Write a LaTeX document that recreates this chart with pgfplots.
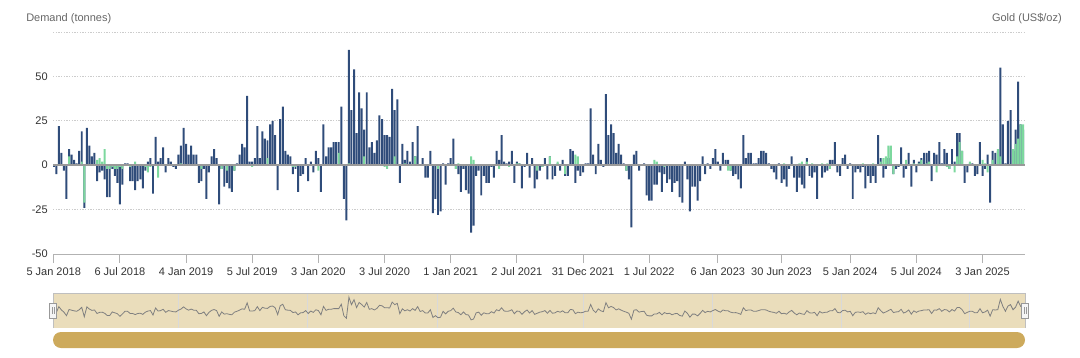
\documentclass[border=0pt]{standalone}
\usepackage{fontspec}
\setmainfont{Liberation Sans}
\usepackage{pgfplots}
\usepackage{pgfplotstable}
\pgfplotsset{compat=1.18}
\definecolor{navy}{HTML}{2F4C7A}
\definecolor{mint}{HTML}{7DD89E}
\definecolor{tanc}{HTML}{EADDBB}
\definecolor{scroll}{HTML}{CDAA5C}
\definecolor{lbl}{HTML}{333333}
\definecolor{ttl}{HTML}{666666}
\newcommand{\lblfont}{\fontsize{8.25}{9.9}\selectfont}
\pgfplotstableread{
w b g
0 -1 0
1 -5 0
2 22 0
3 7 0
4 -3 0
5 -19 0
6 9 5
7 6 0
8 3 0
9 1 0
10 8 0
11 19 2
12 -24 -21
13 21 0
14 11 0
15 5 0
16 7 0
17 -9 3
18 -4 4
19 -3 2
20 -8 9
21 -18 -2
22 -18 -2
23 -2 -1
24 -6 -2
25 -10 -2
26 -22 -1
27 -11 -2
28 1 0
29 1 0
30 -9 -1
31 -9 0
32 -14 2
33 -9 0
34 -8 0
35 -13 0
36 -3 -1
37 2 -4
38 4 -1
39 -16 0
40 16 0
41 2 -7
42 4 0
43 10 0
44 -4 0
45 4 0
46 2 0
47 -1 0
48 -2 0
49 6 0
50 11 1
51 21 0
52 12 0
53 6 0
54 11 0
55 6 0
56 6 0
57 -10 0
58 -9 -2
59 -2 0
60 -19 0
61 -4 0
62 5 0
63 9 0
64 4 0
65 -22 0
66 -2 -2
67 -12 0
68 -10 -3
69 -13 0
70 -15 0
71 -3 -3
72 1 0
73 6 0
74 12 0
75 10 0
76 39 0
77 2 0
78 2 -1
79 4 0
80 22 0
81 4 0
82 19 0
83 15 0
84 14 4
85 23 0
86 25 0
87 17 0
88 -14 0
89 26 0
90 33 0
91 8 0
92 6 0
93 5 0
94 -5 -1
95 -2 -1
96 -15 0
97 -6 0
98 -5 0
99 4 0
100 -9 0
101 2 0
102 -4 0
103 8 0
104 4 -3
105 -15 0
106 23 0
107 5 0
108 10 0
109 10 0
110 13 0
111 13 0
112 13 7
113 33 0
114 -19 0
115 -31 0
116 65 1
117 31 0
118 54 0
119 18 0
120 41 0
121 32 0
122 20 5
123 41 0
124 10 0
125 13 0
126 7 0
127 14 0
128 28 0
129 26 0
130 17 -1
131 17 -2
132 16 0
133 43 0
134 31 5
135 37 0
136 -10 0
137 12 0
138 3 1
139 8 0
140 2 0
141 13 0
142 5 5
143 22 0
144 0 0
145 4 0
146 -7 0
147 -7 0
148 8 0
149 -27 0
150 -19 0
151 -28 -2
152 -26 0
153 1 0
154 -11 0
155 1 0
156 4 0
157 15 0
158 -2 -2
159 -5 1
160 -15 0
161 -2 0
162 -14 0
163 -16 0
164 -38 5
165 -34 3
166 -6 0
167 -3 0
168 -17 0
169 -6 0
170 -10 0
171 -10 0
172 -1 0
173 -7 0
174 8 0
175 3 -2
176 17 0
177 2 0
178 1 0
179 2 -1
180 8 0
181 -10 0
182 2 1
183 1 1
184 -13 0
185 -1 0
186 7 0
187 -7 0
188 4 0
189 -13 0
190 -8 -3
191 -3 0
192 -1 -1
193 4 0
194 -8 0
195 5 5
196 -8 0
197 -6 0
198 1 2
199 -3 0
200 3 0
201 -6 -5
202 -6 0
203 9 0
204 8 0
205 -10 6
206 -3 5
207 -6 0
208 -4 0
209 1 0
210 1 0
211 32 0
212 6 0
213 -5 0
214 12 0
215 3 0
216 -1 0
217 40 0
218 17 0
219 23 0
220 18 0
221 7 0
222 12 0
223 6 0
224 1 0
225 -3 -3
226 -8 0
227 -35 0
228 6 0
229 8 0
230 -3 0
231 0 0
232 1 0
233 -17 0
234 -20 0
235 -20 0
236 -11 3
237 -11 2
238 -4 0
239 -15 0
240 -5 -1
241 -10 0
242 -8 0
243 -15 0
244 -10 0
245 -9 0
246 -18 0
247 -21 0
248 2 0
249 -8 0
250 -26 0
251 -12 0
252 -12 0
253 -20 0
254 -9 0
255 5 0
256 -5 0
257 1 0
258 -2 0
259 4 0
260 9 0
261 2 0
262 -3 0
263 7 0
264 3 0
265 3 -3
266 -3 -3
267 -6 0
268 -5 0
269 -8 0
270 -13 0
271 17 0
272 4 0
273 7 0
274 7 0
275 1 0
276 1 0
277 4 0
278 8 0
279 8 0
280 7 0
281 1 0
282 -2 0
283 -4 0
284 -8 0
285 1 0
286 -10 0
287 -8 1
288 -12 0
289 -2 0
290 5 0
291 -7 0
292 -15 0
293 -7 1
294 -11 2
295 -13 0
296 4 2
297 -6 0
298 -7 1
299 -4 0
300 -19 0
301 0 0
302 -7 1
303 -4 0
304 -3 1
305 3 -2
306 3 0
307 13 0
308 -4 0
309 -6 0
310 4 0
311 6 0
312 -2 0
313 1 0
314 -19 0
315 -4 0
316 -2 0
317 -4 0
318 -1 1
319 -13 0
320 -6 0
321 -10 0
322 -6 1
323 -10 0
324 17 0
325 4 2
326 -7 4
327 -2 5
328 4 11
329 10 11
330 -5 -5
331 -2 0
332 -1 0
333 10 0
334 -7 0
335 -2 3
336 7 0
337 -12 0
338 3 1
339 -4 0
340 2 1
341 4 3
342 7 0
343 7 1
344 8 2
345 -9 0
346 7 0
347 6 -4
348 13 0
349 1 0
350 9 0
351 7 -1
352 -2 -2
353 9 0
354 2 -4
355 18 5
356 18 13
357 8 8
358 -10 0
359 -4 0
360 1 2
361 1 0
362 -6 0
363 -5 0
364 13 0
365 -6 3
366 -2 1
367 6 -4
368 -21 0
369 8 3
370 7 0
371 8 9
372 55 5
373 23 0
374 1 0
375 25 0
376 31 0
377 8 9
378 20 12
379 47 15
380 23 23
381 20 23
}\data
\begin{document}
\begin{tikzpicture}
\begin{scope}[x=0.75pt,y=-0.75pt]
\path[use as bounding box] (0,0) rectangle (1080,357);
\node[anchor=west, text=ttl, font=\lblfont, inner sep=0pt] at (26,19) {Demand (tonnes)};
\node[anchor=east, text=ttl, font=\lblfont, inner sep=0pt] at (1062,19) {Gold (US\$/oz)};
\fill[tanc] (53,293) rectangle (1025,328);
\foreach \xx in {178,307,437,583,712,841,969} \draw[gray!30, line width=0.75pt] (\xx,293) -- (\xx,328);
\draw[gray!50, line width=0.75pt] (53,328) -- (53,293) -- (1025,293) -- (1025,328);
\fill[scroll, rounded corners=6pt] (53,332) rectangle (1025,348);
\end{scope}
\begin{axis}[
  at={(39.75pt,-190.5pt)}, anchor=south west,
  scale only axis, width=729pt, height=166.5pt,
  xmin=-0.3, xmax=381.7, ymin=-50, ymax=75,
  axis x line*=bottom, axis y line*=left,
  y axis line style={draw=none},
  x axis line style={draw=gray!60, line width=0.75pt},
  xtick={0,26,52,78,104,130,156,182,208,234,261,286,313,339,365},
  xticklabels={5 Jan 2018, 6 Jul 2018, 4 Jan 2019, 5 Jul 2019, 3 Jan 2020, 3 Jul 2020, 1 Jan 2021, 2 Jul 2021, 31 Dec 2021, 1 Jul 2022, 6 Jan 2023, 30 Jun 2023, 5 Jan 2024, 5 Jul 2024, 3 Jan 2025},
  ytick={-50,-25,0,25,50,75},
  yticklabels={-50,-25,0,25,50,{}},
  tick align=outside,
  major tick length=6.75pt,
  xtick style={draw=gray!60, line width=0.75pt},
  ytick style={draw=none},
  ymajorgrids,
  grid style={gray!40, dash pattern=on 1pt off 1pt, line width=0.6pt},
  ticklabel style={font=\lblfont, text=lbl},
  yticklabel style={inner sep=0pt, xshift=3pt},
  xticklabel style={inner sep=0pt, yshift=-3.5pt},
]
\addplot[ybar, bar width=0.78, bar shift=0pt, fill=navy, draw=none] table[x=w,y=b]{\data};
\addplot[ybar, bar width=0.78, bar shift=0pt, fill=mint, draw=none] table[x=w,y=g]{\data};
\draw[gray!80, line width=1.1pt] (axis cs:-0.3,0) -- (axis cs:381.7,0);
\end{axis}
\begin{axis}[
  at={(39.75pt,-246pt)}, anchor=south west,
  scale only axis, width=729pt, height=26.25pt,
  xmin=-0.3, xmax=381.7, ymin=-75, ymax=84,
  hide axis,
]
\addplot[gray, line width=0.6pt] table[x=w,y=b]{\data};
\end{axis}
\begin{scope}[x=0.75pt,y=-0.75pt]
\foreach \hx in {53,1025} {
  \filldraw[fill=gray!8, draw=gray!80, line width=0.75pt] (\hx-3.5,303) rectangle (\hx+3.5,318);
  \draw[gray!80, line width=0.6pt] (\hx-1,307) -- (\hx-1,314) (\hx+1,307) -- (\hx+1,314);
}
\end{scope}
\end{tikzpicture}
\end{document}
